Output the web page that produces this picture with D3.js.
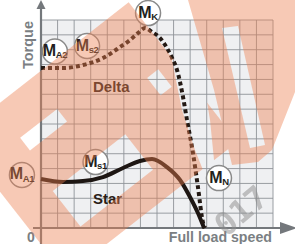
<!DOCTYPE html>
<html>
<head>
<meta charset="utf-8">
<script src="https://cdn.jsdelivr.net/npm/d3@7"></script>
<style>
  body { margin: 0; background: #fff; }
  svg { display: block; font-family: "Liberation Sans", Arial, sans-serif; }
</style>
</head>
<body>
<script>
// curve data, in grid units (14 x 14 grid)
var deltaSpeed  = [0, 1.33, 2.53, 3.74, 4.77, 5.37, 5.85, 6.28, 6.70, 7.18, 7.60, 7.91, 8.21, 8.57, 8.81, 9.17, 9.47, 9.78, 9.90];
var deltaTorque = [10.77, 10.77, 10.97, 11.44, 12.18, 12.65, 13.12, 13.46, 13.19, 12.79, 12.11, 11.44, 10.63, 8.82, 7.27, 5.05, 2.76, 0.34, 0];

var starSpeed  = [0, 1.33, 2.53, 3.74, 4.95, 5.97, 6.70, 7.60, 8.39, 8.99, 9.47, 9.84];
var starTorque = [3.30, 3.10, 3.16, 3.43, 4.04, 4.51, 4.64, 4.10, 3.23, 2.09, 1.01, 0];

// circled point labels
var pointNames  = ["A1", "A2", "s2", "K", "s1", "N"];
var pointSpeed  = [-1.15, 0.84, 2.78, 6.46, 3.29, 10.74];
var pointTorque = [3.57, 11.88, 12.25, 14.47, 4.44, 3.36];

// curve names
var curveNames  = ["Delta", "Star"];
var curveSpeed  = [3.14, 3.14];
var curveTorque = [9.15, 1.62];

var gridCount = 14;

var W = 295, H = 244;

var x = d3.scaleLinear().domain([0, gridCount]).range([41, 273]);
var y = d3.scaleLinear().domain([0, gridCount]).range([228, 20]);

var svg = d3.select("body").append("svg")
    .attr("width", W)
    .attr("height", H);

svg.append("rect").attr("width", W).attr("height", H).attr("fill", "#fff");

// plot background
svg.append("rect")
    .attr("x", x(0)).attr("y", y(gridCount))
    .attr("width", x(gridCount) - x(0))
    .attr("height", y(0) - y(gridCount))
    .attr("fill", "#eff0f2");

// grid
var ticks = d3.range(0, gridCount + 1);
svg.append("g").selectAll("line.v").data(ticks).enter().append("line")
    .attr("x1", d => x(d)).attr("x2", d => x(d))
    .attr("y1", y(0)).attr("y2", y(gridCount))
    .attr("stroke", "#8f9398").attr("stroke-width", 0.9);
svg.append("g").selectAll("line.h").data(ticks).enter().append("line")
    .attr("x1", x(0)).attr("x2", x(gridCount))
    .attr("y1", d => y(d)).attr("y2", d => y(d))
    .attr("stroke", "#8f9398").attr("stroke-width", 0.9);

// axes with arrows
var axisCol = "#74787c";
svg.append("line")
    .attr("x1", x(0)).attr("x2", x(0))
    .attr("y1", H).attr("y2", 8)
    .attr("stroke", axisCol).attr("stroke-width", 2.2);
svg.append("path")
    .attr("d", "M" + x(0) + ",0 L" + (x(0) - 4.5) + ",9 L" + (x(0) + 4.5) + ",9 Z")
    .attr("fill", axisCol);
svg.append("line")
    .attr("x1", 33).attr("x2", 282)
    .attr("y1", y(0)).attr("y2", y(0))
    .attr("stroke", axisCol).attr("stroke-width", 2.2);
svg.append("path")
    .attr("d", "M297," + y(0) + " L280," + (y(0) - 6) + " L280," + (y(0) + 6) + " Z")
    .attr("fill", axisCol);

svg.append("text")
    .attr("transform", "translate(33,45) rotate(-90)")
    .attr("text-anchor", "middle")
    .attr("font-size", 14.5).attr("font-weight", "bold")
    .attr("fill", "#7b7f83")
    .text("Torque");
svg.append("text")
    .attr("x", 31).attr("y", 242)
    .attr("text-anchor", "middle")
    .attr("font-size", 14).attr("font-weight", "bold")
    .attr("fill", "#7b7f83")
    .text("0");
svg.append("text")
    .attr("x", 272).attr("y", 242)
    .attr("text-anchor", "end")
    .attr("font-size", 14.2).attr("font-weight", "bold")
    .attr("fill", "#7b7f83")
    .text("Full load speed");

// curves
var line = d3.line()
    .x(d => x(d[0]))
    .y(d => y(d[1]))
    .curve(d3.curveMonotoneX);

svg.append("path")
    .datum(d3.zip(starSpeed, starTorque))
    .attr("d", line)
    .attr("fill", "none")
    .attr("stroke", "#1d1613")
    .attr("stroke-width", 4);

svg.append("path")
    .datum(d3.zip(deltaSpeed, deltaTorque))
    .attr("d", line)
    .attr("fill", "none")
    .attr("stroke", "#231914")
    .attr("stroke-width", 4)
    .attr("stroke-dasharray", "4,3");

// curve names
svg.append("g").selectAll("text").data(curveNames).enter().append("text")
    .attr("x", (d, i) => x(curveSpeed[i]))
    .attr("y", (d, i) => y(curveTorque[i]))
    .attr("font-size", 15).attr("font-weight", "bold")
    .attr("fill", "#2a1d17")
    .text(d => d);

// circled labels
var pts = svg.append("g").selectAll("g").data(pointNames).enter().append("g")
    .attr("transform", (d, i) => "translate(" + x(pointSpeed[i]) + "," + y(pointTorque[i]) + ")");
pts.append("circle")
    .attr("r", 12.5)
    .attr("fill", "#fff")
    .attr("stroke", "#8a8a8a")
    .attr("stroke-width", 1.5);
var lbl = pts.append("text")
    .attr("text-anchor", "middle")
    .attr("y", 4.5)
    .attr("fill", "#231f20")
    .attr("font-weight", "bold")
    .attr("letter-spacing", -0.4);
lbl.append("tspan").attr("font-size", 16).text("M");
lbl.append("tspan").attr("font-size", 9.5).attr("dy", 2.5).text(d => d);

// orange watermark bands laid over the chart
var ca = Math.cos(38 * Math.PI / 180), sa = Math.sin(38 * Math.PI / 180);
function bandRect(u0, u1, v0, v1) {
  return [[u0, v0], [u1, v0], [u1, v1], [u0, v1]]
    .map(p => [ca * p[0] + sa * p[1], -sa * p[0] + ca * p[1]].join(",")).join(" ");
}
var defs = svg.append("defs");
var mask = defs.append("mask").attr("id", "wm");
mask.append("rect").attr("width", W).attr("height", H).attr("fill", "#fff");
[bandRect(-69, -22, 121, 137), bandRect(-76, 16, 183, 228), bandRect(68, 82, 152, 174)]
  .forEach(p => mask.append("polygon").attr("points", p).attr("fill", "#000"));
["222,28 238,26 265,145 250,148", "172,60 200,60 210,120 215,170 205,175 195,150 182,110"]
  .forEach(p => mask.append("polygon").attr("points", p).attr("fill", "#000"));

var wm = svg.append("g").attr("mask", "url(#wm)").attr("opacity", 0.42);
wm.append("polygon").attr("points", bandRect(-118, 100, 81, 258)).attr("fill", "#ee8050");
wm.append("polygon").attr("points", "188,0 295,0 295,92 272,150 258,162 232,165 214,90").attr("fill", "#ee8050");

// grey watermark digits
svg.append("text")
    .attr("transform", "translate(226,238) rotate(-40)")
    .attr("font-family", "DejaVu Sans Mono").attr("font-weight", "bold")
    .attr("font-size", 32).attr("fill", "#8c8c8c").attr("opacity", 0.5)
    .text("017");
</script>
</body>
</html>
